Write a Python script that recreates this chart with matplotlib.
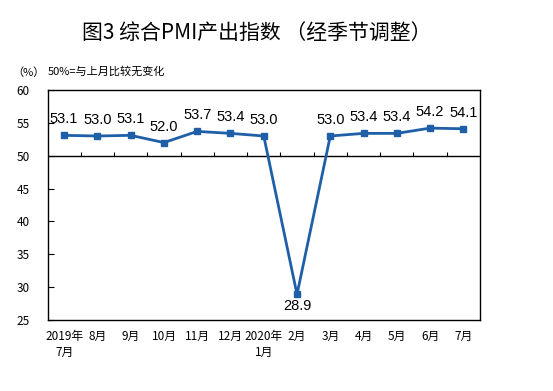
import matplotlib.pyplot as plt
import numpy as np

plt.rcParams['font.family'] = ['Noto Sans CJK SC', 'DejaVu Sans']

# data
months = ['2019年\n7月', '8月', '9月', '10月', '11月', '12月', '2020年\n1月',
          '2月', '3月', '4月', '5月', '6月', '7月']
pmi = [53.1, 53.0, 53.1, 52.0, 53.7, 53.4, 53.0, 28.9, 53.0, 53.4, 53.4, 54.2, 54.1]
yticks = [25, 30, 35, 40, 45, 50, 55, 60]

fig = plt.figure(figsize=(5.53, 3.91), dpi=100)
ax = fig.add_axes([47.5 / 553, 1 - 320 / 391, 432.5 / 553, 230 / 391])

x = np.arange(len(pmi))
line_color = '#1f5fa8'
ax.plot(x, pmi, color=line_color, lw=2, marker='s', ms=4, zorder=3)

for xi, v in zip(x, pmi):
    if v < 50:
        ax.annotate(f'{v:.1f}', (xi, v), xytext=(0, -3), textcoords='offset points',
                    ha='center', va='top', fontsize=10.5, family='Liberation Sans')
    else:
        ax.annotate(f'{v:.1f}', (xi, v), xytext=(0, 6.5), textcoords='offset points',
                    ha='center', va='bottom', fontsize=10.5, family='Liberation Sans')

ax.set_xlim(-0.5, len(pmi) - 0.5)
ax.set_ylim(25, 60)
ax.axhline(50, color='black', lw=1, zorder=2)
# small tick marks on the 50 line between months
ax.vlines(np.arange(0.5, len(pmi) - 0.5), 50, 50.6, color='black', lw=0.8)

ax.set_yticks(yticks)
ax.tick_params(axis='y', direction='in', length=4, labelsize=8.5, pad=13)
ax.set_xticks(x)
ax.set_xticklabels(months, fontsize=8.5, linespacing=1.35)
ax.tick_params(axis='x', length=0, pad=7)
for s in ax.spines.values():
    s.set_linewidth(1)

fig.text(0.465, 0.915, '图3 综合PMI产出指数 （经季节调整）', ha='center', va='center',
         fontsize=15)
fig.text(12 / 553, 1 - 73 / 391, '（%）', ha='left', va='center', fontsize=8)
fig.text(48 / 553, 1 - 71 / 391, '50%=与上月比较无变化', ha='left', va='center', fontsize=8)

fig.savefig('out.png', dpi=100)
